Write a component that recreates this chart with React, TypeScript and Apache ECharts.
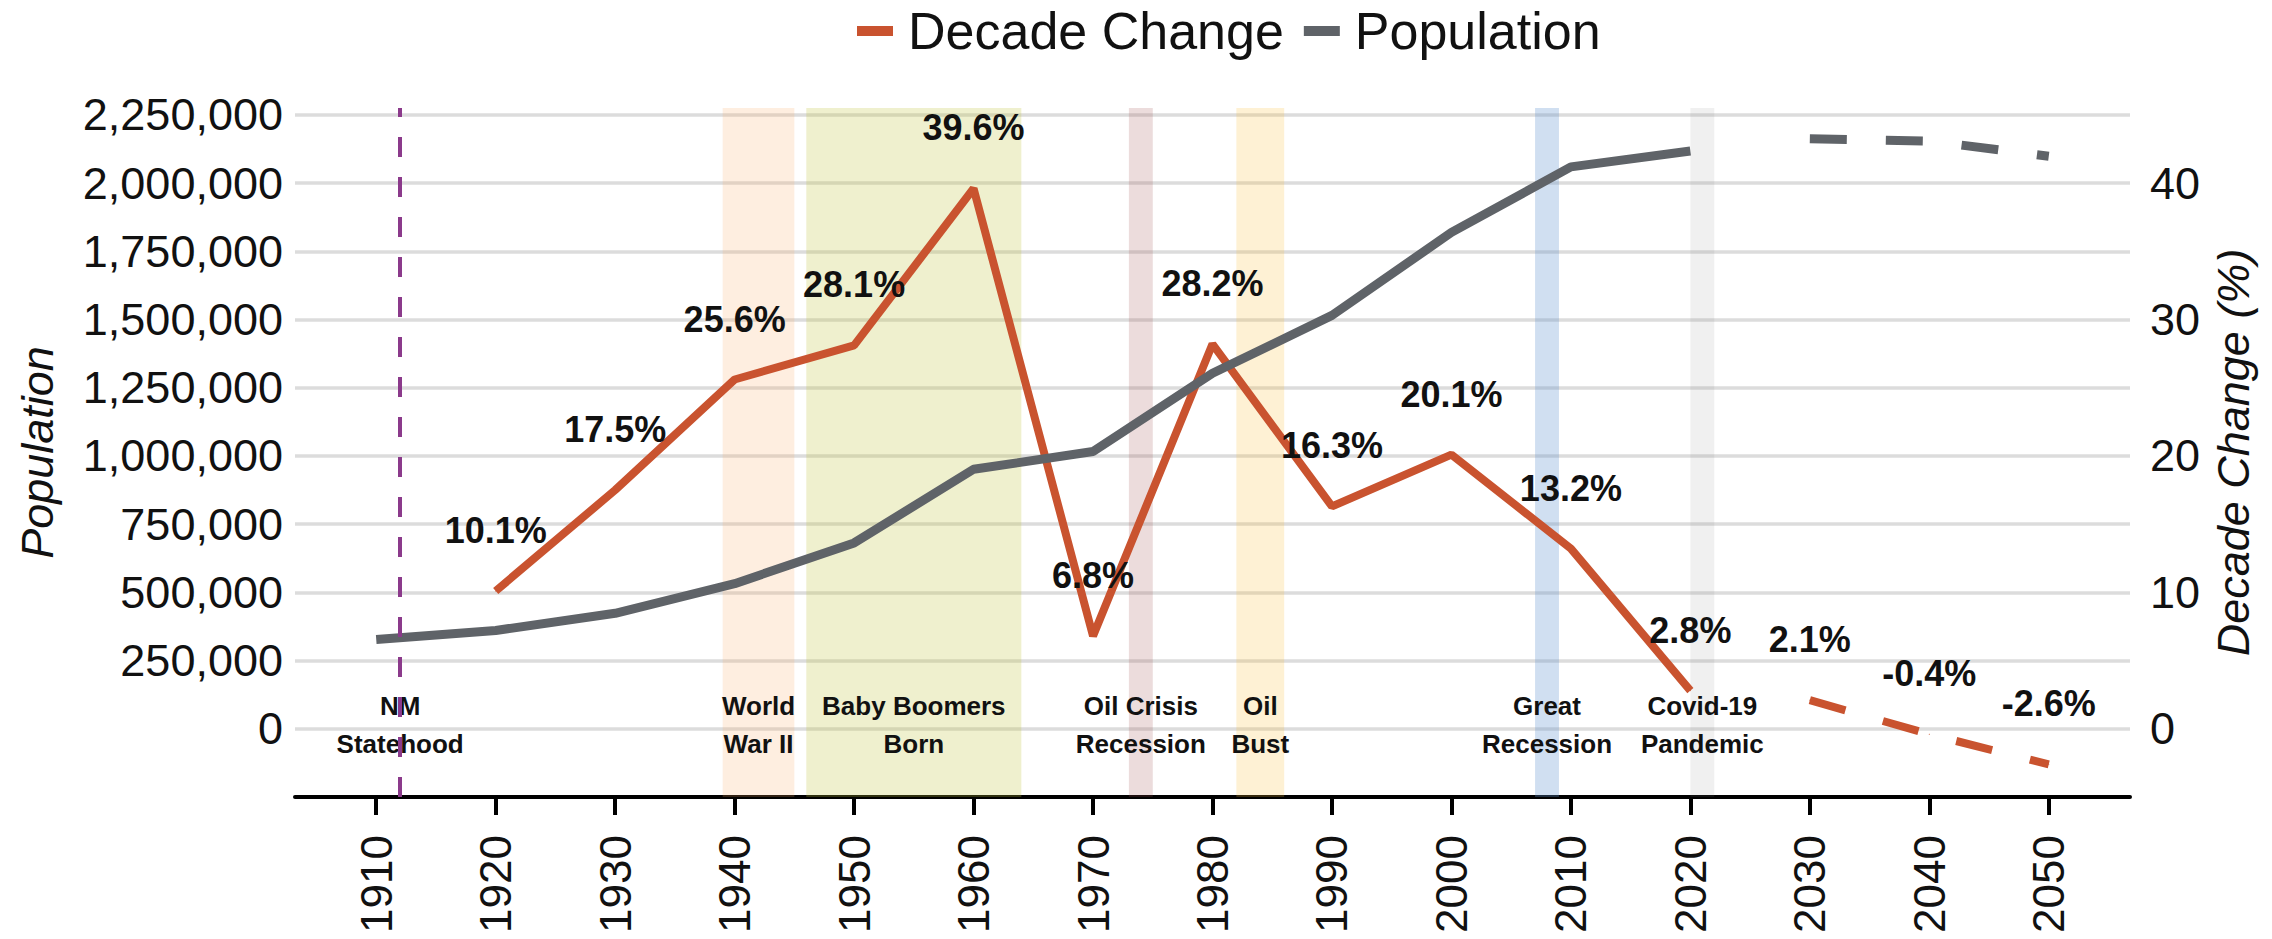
import React, { useEffect, useRef } from 'react';
import * as echarts from 'echarts';

// ---- data ----
const popYears = [1910, 1920, 1930, 1940, 1950, 1960, 1970, 1980, 1990, 2000, 2010, 2020];
const population = [327301, 360350, 423317, 531818, 681187, 951023, 1016000, 1302894, 1515069, 1819046, 2059179, 2117522];
const projYears = [2030, 2040, 2050];
const populationProjected = [2162000, 2154000, 2098000];
const changeYears = [1920, 1930, 1940, 1950, 1960, 1970, 1980, 1990, 2000, 2010, 2020];
const decadeChange = [10.1, 17.5, 25.6, 28.1, 39.6, 6.8, 28.2, 16.3, 20.1, 13.2, 2.8];
const changeProjected = [2.1, -0.4, -2.6];
const tickYears = [1910, 1920, 1930, 1940, 1950, 1960, 1970, 1980, 1990, 2000, 2010, 2020, 2030, 2040, 2050];
const eventLabels = ['World\nWar II', 'Baby Boomers\nBorn', 'Oil Crisis\nRecession', 'Oil\nBust', 'Great\nRecession', 'Covid-19\nPandemic'];
const eventStart = [1939, 1946, 1973, 1982, 2007, 2020];
const eventEnd = [1945, 1964, 1975, 1986, 2009, 2022];
const statehoodLabel = 'NM\nStatehood';
const statehoodYear = 1912;

// ---- styles ----
const FONT = '"Liberation Sans", Arial, Helvetica, sans-serif';
const RED = '#c9532f';
const GRAY = '#5f6368';
const PURPLE = '#8b3a8b';
const bandColors = [
  'rgba(248,170,100,0.2)',
  'rgba(190,195,60,0.25)',
  'rgba(160,80,80,0.2)',
  'rgba(250,190,60,0.22)',
  'rgba(100,150,210,0.3)',
  'rgba(128,128,128,0.12)',
];

export default function App() {
  const ref = useRef<HTMLDivElement>(null);
  useEffect(() => {
    const chart = echarts.init(ref.current as HTMLDivElement, null, { renderer: 'svg' });
    const dataLabel = {
      show: true,
      position: 'top',
      distance: 42,
      formatter: (p: any) => `${Number(p.value[1]).toFixed(1)}%`,
      fontFamily: FONT,
      fontSize: 36,
      fontWeight: 'bold',
      color: '#111',
    };
    const dash = [37, 39];
    const bandData: any[] = eventLabels.map((name, i) => [
      { xAxis: eventStart[i], name, itemStyle: { color: bandColors[i] } },
      { xAxis: eventEnd[i] },
    ]);
    bandData.unshift([
      { xAxis: statehoodYear, name: statehoodLabel, itemStyle: { color: 'rgba(0,0,0,0)' } },
      { xAxis: statehoodYear },
    ]);

    chart.setOption({
      animation: false,
      textStyle: { fontFamily: FONT },
      legend: {
        data: ['Decade Change', 'Population'],
        left: 852,
        top: 0,
        icon: 'rect',
        itemWidth: 36,
        itemHeight: 10,
        itemGap: 20,
        textStyle: { fontSize: 52, color: '#111', fontFamily: FONT, padding: [0, 0, 0, 10] },
      },
      grid: { left: 295, right: 142, top: 108, bottom: 142 },
      xAxis: {
        type: 'value',
        min: 1903.2,
        max: 2056.8,
        axisLine: { onZero: false, lineStyle: { color: '#000', width: 4 } },
        axisTick: { show: true, customValues: tickYears, length: 18, lineStyle: { color: '#000', width: 4 } },
        axisLabel: {
          customValues: tickYears,
          rotate: 90,
          margin: 38,
          fontSize: 44,
          color: '#111',
          fontFamily: FONT,
          formatter: (v: number) => String(v),
        },
        splitLine: { show: false },
      },
      yAxis: [
        {
          type: 'value',
          min: -250000,
          max: 2275000,
          interval: 250000,
          name: 'Population',
          nameLocation: 'middle',
          nameGap: 235,
          nameRotate: 90,
          nameTextStyle: { fontSize: 45, fontStyle: 'italic', color: '#111', fontFamily: FONT },
          axisLine: { show: false },
          axisTick: { show: false },
          axisLabel: {
            fontSize: 45,
            margin: 12,
            color: '#111',
            fontFamily: FONT,
            formatter: (v: number) => (v < 0 || v > 2250000 ? '' : v.toLocaleString('en-US')),
          },
          splitLine: { show: true, showMaxLine: false, showMinLine: false, lineStyle: { color: '#dcdcdc', width: 3.5 } },
        },
        {
          type: 'value',
          min: -5,
          max: 45.5,
          interval: 5,
          name: 'Decade Change (%)',
          nameLocation: 'middle',
          nameGap: 68,
          nameRotate: 90,
          nameTextStyle: { fontSize: 45, fontStyle: 'italic', color: '#111', fontFamily: FONT },
          axisLine: { show: false },
          axisTick: { show: false },
          axisLabel: {
            fontSize: 45,
            margin: 20,
            color: '#111',
            fontFamily: FONT,
            formatter: (v: number) => (v >= 0 && v <= 40 && Math.abs(v % 10) < 1e-9 ? String(v) : ''),
          },
          splitLine: { show: false },
        },
      ],
      series: [
        {
          name: 'Decade Change',
          type: 'line',
          yAxisIndex: 1,
          data: changeYears.map((y, i) => [y, decadeChange[i]]),
          symbol: 'circle',
          symbolSize: 1,
          showSymbol: true,
          lineStyle: { color: RED, width: 8 },
          itemStyle: { color: RED },
          label: dataLabel,
          z: 2,
        },
        {
          name: 'Decade Change (projected)',
          type: 'line',
          yAxisIndex: 1,
          data: projYears.map((y, i) => [y, changeProjected[i]]),
          symbol: 'circle',
          symbolSize: 1,
          showSymbol: true,
          lineStyle: { color: RED, width: 8, type: dash, cap: 'butt' },
          itemStyle: { color: RED },
          label: dataLabel,
          z: 2,
        },
        {
          name: 'Population',
          type: 'line',
          yAxisIndex: 0,
          data: popYears.map((y, i) => [y, population[i]]),
          symbol: 'none',
          lineStyle: { color: GRAY, width: 9 },
          itemStyle: { color: GRAY },
          z: 3,
        },
        {
          name: 'Population (projected)',
          type: 'line',
          yAxisIndex: 0,
          data: projYears.map((y, i) => [y, populationProjected[i]]),
          symbol: 'none',
          lineStyle: { color: GRAY, width: 9, type: dash, cap: 'butt' },
          itemStyle: { color: GRAY },
          z: 3,
        },
        {
          name: 'Events',
          type: 'line',
          yAxisIndex: 1,
          data: [],
          z: 10,
          markArea: {
            silent: true,
            label: {
              show: true,
              position: 'insideBottom',
              distance: 34,
              formatter: '{b}',
              fontFamily: FONT,
              fontSize: 26,
              fontWeight: 'bold',
              lineHeight: 38,
              color: '#111',
              align: 'center',
            },
            data: bandData,
          },
          markLine: {
            silent: true,
            symbol: 'none',
            label: { show: false },
            lineStyle: { color: PURPLE, width: 4, type: [20, 20], cap: 'butt' },
            data: [{ xAxis: statehoodYear }],
          },
        },
      ],
    });
    return () => chart.dispose();
  }, []);
  return <div ref={ref} style={{ position: 'absolute', left: 0, top: 0, width: 2272, height: 939 }} />;
}
